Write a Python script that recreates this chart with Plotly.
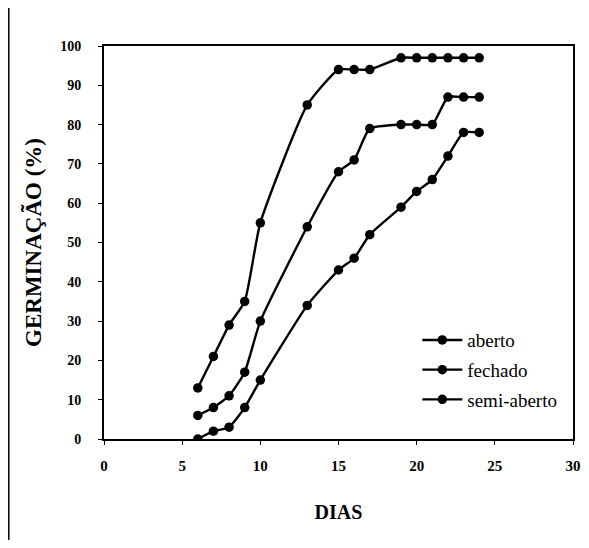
import plotly.graph_objects as go

dias = [6, 7, 8, 9, 10, 13, 15, 16, 17, 19, 20, 21, 22, 23, 24]
aberto = [13, 21, 29, 35, 55, 85, 94, 94, 94, 97, 97, 97, 97, 97, 97]
fechado = [6, 8, 11, 17, 30, 54, 68, 71, 79, 80, 80, 80, 87, 87, 87]
semi_aberto = [0, 2, 3, 8, 15, 34, 43, 46, 52, 59, 63, 66, 72, 78, 78]

series = [("aberto", aberto), ("fechado", fechado), ("semi-aberto", semi_aberto)]

fig = go.Figure()
for name, vals in series:
    fig.add_trace(go.Scatter(
        x=dias, y=vals, name=name, mode="lines+markers", legendgroup=name,
        line=dict(color="black", width=2.4, shape="spline", smoothing=0.5),
        marker=dict(color="black", size=9.5, symbol="circle"),
    ))

font_serif = "Liberation Serif, Times New Roman, serif"
fig.update_layout(
    width=573, height=532,
    paper_bgcolor="white", plot_bgcolor="white",
    margin=dict(l=96, r=8, t=38, b=101),
    font=dict(family=font_serif, color="black", size=14),
    showlegend=True,
    legend=dict(x=0.668, y=0.30, xanchor="left", yanchor="top",
                bgcolor="rgba(0,0,0,0)", font=dict(size=19, family=font_serif),
                tracegroupgap=2, traceorder="grouped", itemwidth=40),
)
fig.update_xaxes(
    range=[0, 30], tickvals=[0, 5, 10, 15, 20, 25, 30],
    showgrid=False, zeroline=False, automargin=False,
    showline=True, linecolor="black", linewidth=2, mirror=True,
    ticks="outside", ticklen=4, tickcolor="black",
    ticklabelstandoff=8,
    tickfont=dict(size=15, family=font_serif, weight="bold"),
    title=dict(text="<b>DIAS</b>", font=dict(size=20, family=font_serif), standoff=32),
)
fig.update_yaxes(
    range=[0, 100], tickvals=list(range(0, 101, 10)),
    showgrid=False, zeroline=False, automargin=False,
    showline=True, linecolor="black", linewidth=2, mirror=True,
    ticks="outside", ticklen=4, tickcolor="black",
    ticklabelstandoff=14,
    tickfont=dict(size=14, family=font_serif, weight="bold"),
    title=dict(text="<b>GERMINAÇÃO (%)</b>", font=dict(size=23, family=font_serif), standoff=12),
)
# outer page frame (left and top edges)
fig.add_shape(type="line", xref="paper", yref="paper", x0=-0.203, x1=-0.203, y0=-0.27, y1=1.109,
              line=dict(color="black", width=1.5))
fig.add_shape(type="line", xref="paper", yref="paper", x0=-0.203, x1=1.02, y0=1.109, y1=1.109,
              line=dict(color="black", width=1.5))

fig.write_html("out.html")
